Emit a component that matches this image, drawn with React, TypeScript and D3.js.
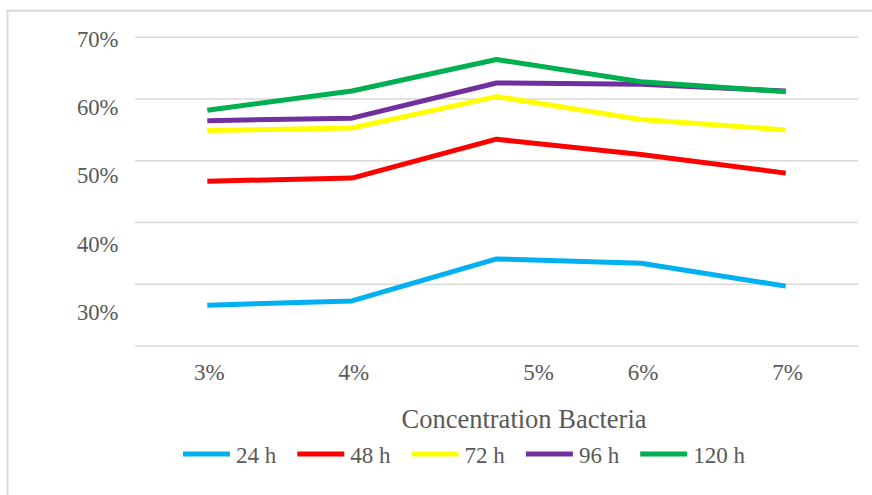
import React from "react";
import * as d3 from "d3";

// Bacterial concentration categories on the x axis
const categories = ["3%", "4%", "5%", "6%", "7%"];

// Incubation time series (percent values)
const seriesNames = ["24 h", "48 h", "72 h", "96 h", "120 h"];
const values24h = [26.6, 27.3, 34.1, 33.4, 29.7];
const values48h = [46.7, 47.2, 53.5, 51.0, 48.0];
const values72h = [54.9, 55.3, 60.4, 56.7, 55.0];
const values96h = [56.5, 56.9, 62.6, 62.4, 61.3];
const values120h = [58.2, 61.3, 66.4, 62.8, 61.2];
const seriesColors = ["#00B0F0", "#FF0000", "#FFFF00", "#7030A0", "#00B050"];

// Gridline values and the labels printed along the y axis
const gridValues = [20, 30, 40, 50, 60, 70];
const yTickLabels = [70, 60, 50, 40, 30];
const xTitle = "Concentration Bacteria";

const W = 872;
const H = 495;
const FONT = "'Liberation Serif', 'Times New Roman', Times, serif";
const TEXT = "#595959";
const GRID = "#d9d9d9";

export default function App() {
  const seriesValues = [values24h, values48h, values72h, values96h, values120h];

  const x = d3.scaleBand<string>().domain(categories).range([135, 858]);
  const y = d3.scaleLinear().domain([20, 70]).range([346, 37.3]);
  // y labels sit on their own, slightly wider spaced, scale
  const yLabel = d3.scaleLinear().domain([30, 70]).range([320, 46.7]);
  const cx = (c: string) => (x(c) ?? 0) + x.bandwidth() / 2;

  // small nudges of the category labels
  const labelNudge: Record<string, number> = { "5%": 40 };

  const line = d3
    .line<number>()
    .x((_, i) => cx(categories[i]))
    .y((d) => y(d));

  const legend = d3
    .scaleBand<string>()
    .domain(seriesNames)
    .range([183, 183 + 114.3 * seriesNames.length]);

  const textStyle = { fontFamily: FONT, fill: TEXT } as React.CSSProperties;

  return (
    <svg
      width={W}
      height={H}
      style={{ position: "absolute", left: 0, top: 0, background: "#fff" }}
    >
      {/* chart frame */}
      <line x1={6} x2={W} y1={10.7} y2={10.7} stroke={GRID} strokeWidth={2} />
      <line x1={7.5} x2={7.5} y1={10} y2={H} stroke={GRID} strokeWidth={2} />

      {/* gridlines */}
      {gridValues.map((v) => (
        <line
          key={v}
          x1={135}
          x2={858}
          y1={y(v)}
          y2={y(v)}
          stroke={GRID}
          strokeWidth={1.5}
        />
      ))}

      {/* y labels */}
      {yTickLabels.map((v) => (
        <text
          key={v}
          x={118.5}
          y={yLabel(v)}
          textAnchor="end"
          style={{ ...textStyle, fontSize: 22.7 }}
        >
          {v}%
        </text>
      ))}

      {/* x labels */}
      {categories.map((c) => (
        <text
          key={c}
          x={cx(c) + 2 + (labelNudge[c] ?? 0)}
          y={380}
          textAnchor="middle"
          style={{ ...textStyle, fontSize: 23 }}
        >
          {c}
        </text>
      ))}

      {/* series lines */}
      {seriesValues.map((vals, i) => (
        <path
          key={seriesNames[i]}
          d={line(vals) ?? ""}
          fill="none"
          stroke={seriesColors[i]}
          strokeWidth={5}
          strokeLinejoin="round"
          strokeLinecap="butt"
        />
      ))}

      {/* axis title */}
      <text
        x={524}
        y={428}
        textAnchor="middle"
        style={{ ...textStyle, fontSize: 26.5 }}
      >
        {xTitle}
      </text>

      {/* legend */}
      {seriesNames.map((name, i) => {
        const lx = legend(name) ?? 0;
        return (
          <g key={name}>
            <line
              x1={lx}
              x2={lx + 47}
              y1={454}
              y2={454}
              stroke={seriesColors[i]}
              strokeWidth={5}
            />
            <text x={lx + 53} y={463} style={{ ...textStyle, fontSize: 23 }}>
              {name}
            </text>
          </g>
        );
      })}
    </svg>
  );
}
